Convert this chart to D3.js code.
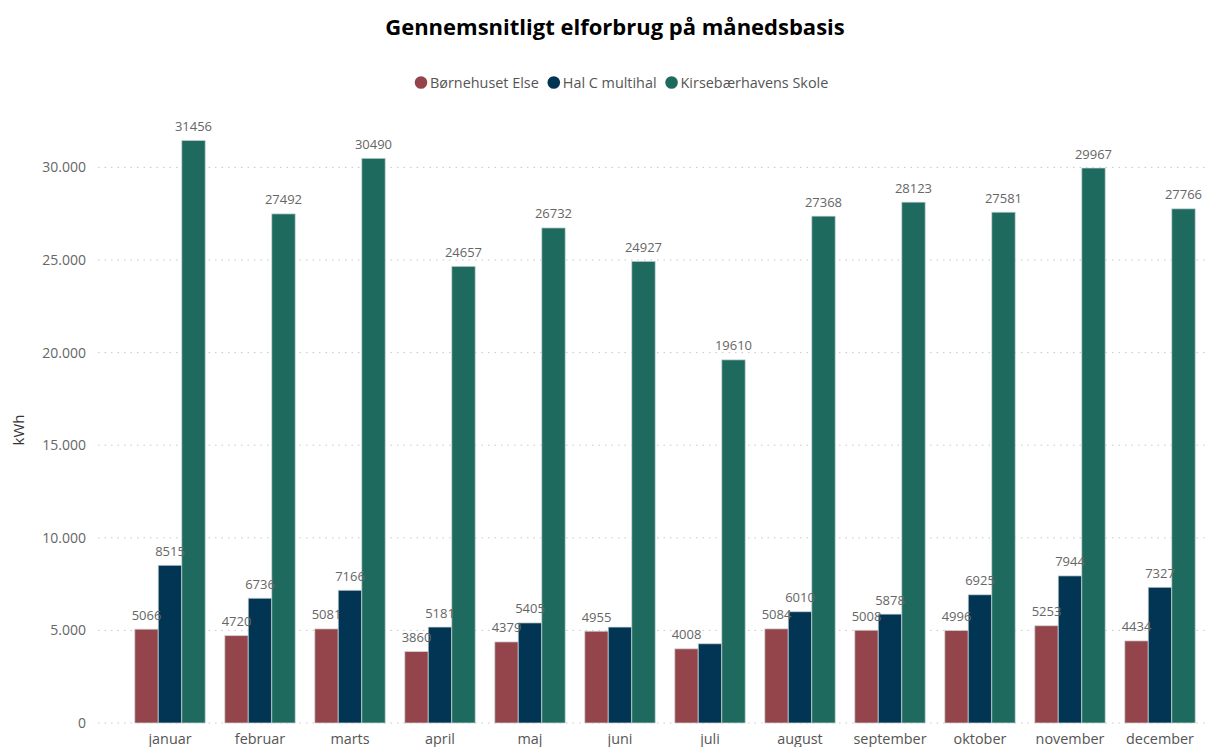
<!DOCTYPE html>
<html><head><meta charset="utf-8">
<script src="https://cdn.jsdelivr.net/npm/d3@7"></script>
<style>body{margin:0;background:#fff;}svg{display:block;}</style>
</head><body>
<svg id="c" width="1209" height="747"></svg>
<script>
const months = ["januar","februar","marts","april","maj","juni","juli","august","september","oktober","november","december"];
const seriesNames = ["Børnehuset Else","Hal C multihal","Kirsebærhavens Skole"];
const bornehuset = [5066,4720,5081,3860,4379,4955,4008,5084,5008,4996,5253,4434];
const halC = [8515,6736,7166,5181,5405,5180,4280,6010,5878,6925,7944,7327];
const kirsebaer = [31456,27492,30490,24657,26732,24927,19610,27368,28123,27581,29967,27766];
const colors = ["#94454B","#023553","#1E6A5F"];
const yTicks = [0,5000,10000,15000,20000,25000,30000];

const svg = d3.select("#c");
const font = "'Open Sans', 'Noto Sans', sans-serif";
const series = [bornehuset, halC, kirsebaer];

const x = d3.scaleBand().domain(months).range([125,1205]).paddingInner(0.217).paddingOuter(0.1085);
const xs = d3.scaleBand().domain(d3.range(3)).range([0, x.bandwidth()]);
const y = d3.scaleLinear().domain([0, 30000]).range([723, 167.4]);

// title
svg.append("text").attr("x",615).attr("y",35).attr("text-anchor","middle")
  .attr("font-family",font).attr("font-weight","bold").attr("font-size",22).attr("fill","#000")
  .text("Gennemsnitligt elforbrug på månedsbasis");

// legend
const lg = svg.append("g").attr("font-family",font).attr("font-size",14.4).attr("fill","#555");
let lx = 421;
seriesNames.forEach((n,i)=>{
  lg.append("circle").attr("cx",lx).attr("cy",82.5).attr("r",6.3).attr("fill",colors[i]);
  const t = lg.append("text").attr("x",lx+9).attr("y",87.5).text(n);
  lx += t.node().getComputedTextLength() + 9 + 15;
});

// gridlines
const fmt = v => d3.format(",")(v).replace(/,/g,".");
svg.append("g").selectAll("line").data(yTicks).join("line")
  .attr("x1",98).attr("x2",1207).attr("y1",d=>y(d)).attr("y2",d=>y(d))
  .attr("stroke","#c8c8c8").attr("stroke-width",1).attr("stroke-dasharray","1.5,5");

// y axis
const ya = svg.append("g").attr("transform","translate(86,0)")
  .call(d3.axisLeft(y).tickValues(yTicks).tickFormat(fmt).tickSize(0).tickPadding(0));
ya.select(".domain").remove();
ya.selectAll("text").attr("font-family",font).attr("font-size",14).attr("fill","#666");

svg.append("text").attr("transform","translate(24,430) rotate(-90)").attr("text-anchor","middle")
  .attr("font-family",font).attr("font-size",15).attr("fill","#333").text("kWh");

// x axis
const xa = svg.append("g").attr("transform","translate(0,723)")
  .call(d3.axisBottom(x).tickSize(0).tickPadding(8));
xa.select(".domain").remove();
xa.selectAll("text").attr("font-family",font).attr("font-size",14.4).attr("fill","#555").attr("dy","0.9em");

// bars
const bars = svg.append("g");
series.forEach((vals,si)=>{
  bars.append("g").selectAll("rect").data(vals).join("rect")
    .attr("x",(d,i)=>x(months[i])+xs(si)).attr("width",xs.bandwidth())
    .attr("y",d=>y(d)).attr("height",d=>y(0)-y(d))
    .attr("fill",colors[si]).attr("stroke","#d0dcda").attr("stroke-opacity",0.7).attr("stroke-width",1);
});

// labels with collision hiding
const labG = svg.append("g").attr("font-family",font).attr("font-size",13).attr("fill","#666").attr("text-anchor","middle");
months.forEach((m,i)=>{
  const placed = [];
  [0,2,1].forEach(si=>{
    const v = series[si][i];
    const cx = x(m)+xs(si)+xs.bandwidth()/2;
    const by = y(v)-9.5;
    const w = 30, h = 13;
    const box = {x0:cx-w/2,x1:cx+w/2,y0:by-h,y1:by};
    const hit = placed.some(b=>!(box.x1<=b.x0||box.x0>=b.x1) && Math.abs(box.y1-b.y1)<12);
    if(hit) return;
    placed.push(box);
    labG.append("text").attr("x",cx).attr("y",by).text(v);
  });
});
</script>
</body></html>
